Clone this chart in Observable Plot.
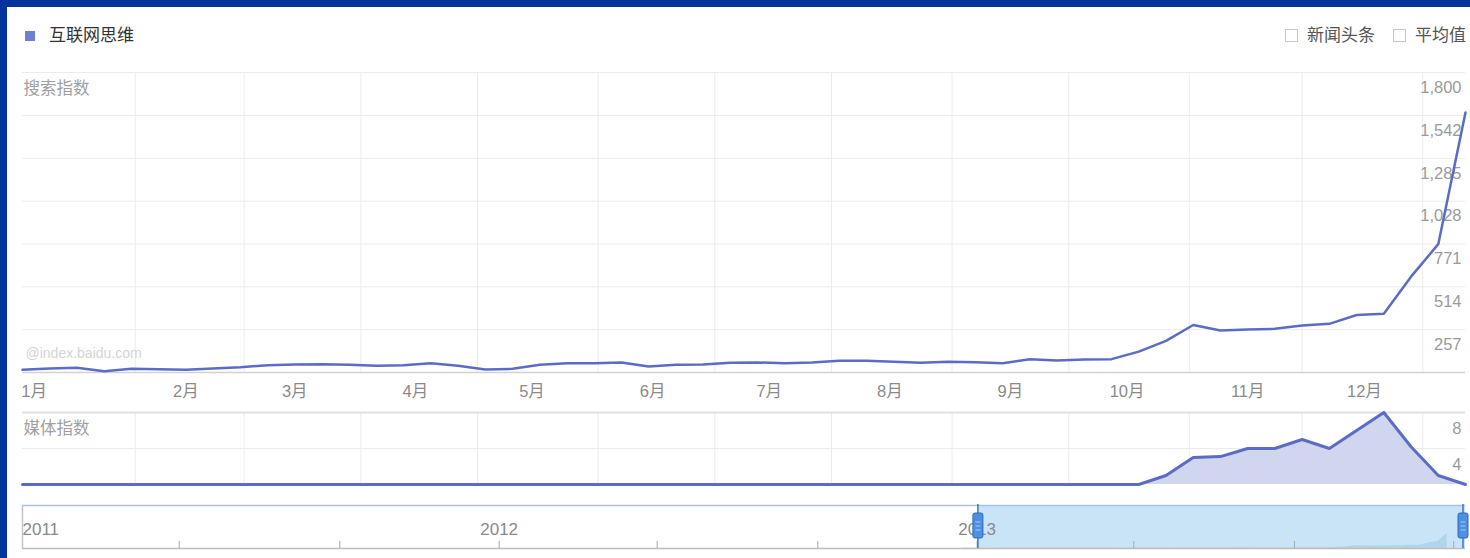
<!DOCTYPE html>
<html><head><meta charset="utf-8">
<script src="https://cdn.jsdelivr.net/npm/d3@7"></script>
<script src="https://cdn.jsdelivr.net/npm/@observablehq/plot@0.6"></script>
<style>
body{margin:0;background:#fff;}
#wrap{position:relative;width:1470px;height:558px;overflow:hidden;background:#fff;font-family:"Liberation Sans","Noto Sans CJK SC",sans-serif;}
svg{overflow:visible}
</style></head><body><div id="wrap"></div>
<script>
// ---------- data ----------
const seriesName = "互联网思维";
const weeks = ["2012-12-21","2012-12-28","2013-01-04","2013-01-11","2013-01-18","2013-01-25","2013-02-01","2013-02-08","2013-02-15","2013-02-22","2013-03-01","2013-03-08","2013-03-15","2013-03-22","2013-03-29","2013-04-05","2013-04-12","2013-04-19","2013-04-26","2013-05-03","2013-05-10","2013-05-17","2013-05-24","2013-05-31","2013-06-07","2013-06-14","2013-06-21","2013-06-28","2013-07-05","2013-07-12","2013-07-19","2013-07-26","2013-08-02","2013-08-09","2013-08-16","2013-08-23","2013-08-30","2013-09-06","2013-09-13","2013-09-20","2013-09-27","2013-10-04","2013-10-11","2013-10-18","2013-10-25","2013-11-01","2013-11-08","2013-11-15","2013-11-22","2013-11-29","2013-12-06","2013-12-13","2013-12-20","2013-12-27"];
const searchIndex = [16,24,28,8,22,20,16,24,32,44,48,50,46,40,44,56,40,18,22,46,56,56,60,36,46,48,58,60,56,60,70,70,64,58,64,62,56,80,72,78,80,125,190,285,252,258,262,282,292,345,352,575,770,1560];
const mediaIndex = [0,0,0,0,0,0,0,0,0,0,0,0,0,0,0,0,0,0,0,0,0,0,0,0,0,0,0,0,0,0,0,0,0,0,0,0,0,0,0,0,0,0,1.0,3.0,3.1,4.0,4.0,5.0,4.0,6.0,8.0,4.2,1.0,0];
const searchTicks = [257,514,771,1028,1285,1542,1800];
const mediaTicks = [4,8];
const monthTickDates = ["2012-12-24","2013-02-01","2013-03-01","2013-04-01","2013-05-01","2013-06-01","2013-07-01","2013-08-01","2013-09-01","2013-10-01","2013-11-01","2013-12-01"];
const monthLabels = ["1月","2月","3月","4月","5月","6月","7月","8月","9月","10月","11月","12月"];
const gridDates = ["2013-01-19","2013-02-16","2013-03-18","2013-04-17","2013-05-18","2013-06-17","2013-07-17","2013-08-17","2013-09-16","2013-10-17","2013-11-15","2013-12-16"];
const overviewDomain = ["2011-01-01","2014-01-10"];
const overviewSelection = ["2013-01-02","2014-01-10"];
const yearTickDates = ["2011-01-01","2012-01-01","2013-01-01"];
const yearLabels = ["2011","2012","2013"];
const overviewTickDates = ["2011-05-01","2011-09-01","2012-01-01","2012-05-01","2012-09-01","2013-01-01","2013-05-01","2013-09-01","2014-01-01"];
const legendRight = ["新闻头条","平均值"];

// ---------- build ----------
const P = d => new Date(d + "T00:00:00Z");
const data = weeks.map((w, i) => ({date: P(w), search: searchIndex[i], media: mediaIndex[i]}));
const months = monthTickDates.map((d, i) => ({date: P(d), label: monthLabels[i]}));
const grid = gridDates.map(P);
const wrap = document.getElementById("wrap");
const FONT = "Liberation Sans, Noto Sans CJK SC, sans-serif";
const LINE = "#5a6cc8";
const xDomain = [data[0].date, data[data.length - 1].date];

function place(el, left, topPx) {
  el.style.position = "absolute"; el.style.left = left + "px"; el.style.top = topPx + "px";
  wrap.appendChild(el); return el;
}

// main search chart
const mainPlot = Plot.plot({
  width: 1470, height: 350,
  marginLeft: 22, marginRight: 5, marginTop: 12, marginBottom: 38,
  style: {fontFamily: FONT, background: "transparent", overflow: "visible"},
  x: {type: "utc", domain: xDomain, axis: null},
  y: {domain: [0, 1800], axis: null},
  marks: [
    Plot.ruleX(grid, {x: d => d, stroke: "#ececec"}),
    Plot.ruleY(searchTicks, {y: d => d, stroke: "#ececec"}),
    Plot.ruleY([0], {stroke: "#d2d2d2", strokeWidth: 1.5}),
    Plot.text(searchTicks, {y: d => d, frameAnchor: "right", text: d => d3.format(",")(d), textAnchor: "end", lineAnchor: "middle", dx: -4, dy: 15, fill: "#9a9a9a", fontSize: 16.5}),
    Plot.text(["搜索指数"], {frameAnchor: "top-left", text: d => d, textAnchor: "start", lineAnchor: "middle", dx: 1, dy: 16, fill: "#a0a0a0", fontSize: 16.5}),
    Plot.text(["@index.baidu.com"], {frameAnchor: "bottom-left", text: d => d, textAnchor: "start", lineAnchor: "middle", dx: 3, dy: -19, fill: "#d4d4d4", fontSize: 14}),
    Plot.line(data, {x: "date", y: "search", stroke: LINE, strokeWidth: 2.5, strokeLinejoin: "round"}),
    Plot.text(months, {x: "date", text: "label", frameAnchor: "bottom", lineAnchor: "middle", dy: 19, fill: "#8a8a8a", fontSize: 16.5})
  ]
});
place(mainPlot, 0, 60);

// media chart
const mediaPlot = Plot.plot({
  width: 1470, height: 92,
  marginLeft: 22, marginRight: 5, marginTop: 12, marginBottom: 8,
  style: {fontFamily: FONT, background: "transparent", overflow: "visible"},
  x: {type: "utc", domain: xDomain, axis: null},
  y: {domain: [0, 8], axis: null},
  marks: [
    Plot.ruleX(grid, {x: d => d, stroke: "#ececec"}),
    Plot.ruleY([4], {stroke: "#ececec"}),
    Plot.areaY(data, {x: "date", y: "media", fill: "#d1d6ef"}),
    Plot.ruleY([8], {stroke: "#e0e0e0", strokeWidth: 2}),
    Plot.text(mediaTicks, {y: d => d, frameAnchor: "right", text: d => String(d), textAnchor: "end", lineAnchor: "middle", dx: -4, dy: 16, fill: "#9a9a9a", fontSize: 16.5}),
    Plot.text(["媒体指数"], {frameAnchor: "top-left", text: d => d, textAnchor: "start", lineAnchor: "middle", dx: 1, dy: 16, fill: "#a0a0a0", fontSize: 16.5}),
    Plot.line(data, {x: "date", y: "media", stroke: LINE, strokeWidth: 3, strokeLinejoin: "round"})
  ]
});
place(mediaPlot, 0, 400);

// overview / range selector
const ovDomain = overviewDomain.map(P);
const sel = overviewSelection.map(P);
const ovPlot = Plot.plot({
  width: 1470, height: 55,
  marginLeft: 22, marginRight: 5, marginTop: 5, marginBottom: 7,
  style: {fontFamily: FONT, background: "transparent", overflow: "visible"},
  x: {type: "utc", domain: ovDomain, axis: null},
  y: {domain: [0, 4500], axis: null},
  marks: [
    Plot.rect([sel], {x1: d => d[0], x2: d => d[1], fill: "#c8e4f6"}),
    Plot.areaY(data, {x: "date", y: "search", fill: "#b2d4ea"}),
    Plot.ruleY([4500], {stroke: "#a9c2de", strokeWidth: 1.5}),
    Plot.ruleY([0], {stroke: "#bdbdbd", strokeWidth: 1.5}),
    Plot.ruleX([ovDomain[0]], {stroke: "#c4c4c4", strokeWidth: 1.5}),
    Plot.tickX(overviewTickDates.map(P), {x: d => d, stroke: "#a8a8a8", insetTop: 36}),
    Plot.text([yearTickDates[0]], {x: d => P(d), text: () => yearLabels[0], textAnchor: "start", frameAnchor: "top", lineAnchor: "middle", dy: 24, fill: "#8a8a8a", fontSize: 17}),
    Plot.text(yearTickDates.slice(1), {x: d => P(d), text: (d, i) => yearLabels[i + 1], textAnchor: "middle", frameAnchor: "top", lineAnchor: "middle", dy: 24, fill: "#8a8a8a", fontSize: 17})
  ]
});
place(ovPlot, 0, 500);
// handles at the selection bounds, positioned with the plot's own x scale
const xs = ovPlot.scale("x");
const ovSvg = d3.select(ovPlot);
sel.forEach((d, i) => {
  const x = Math.min(xs.apply(d), 1466) - (i === 1 ? 2 : 0);
  const g = ovSvg.append("g");
  g.append("line").attr("x1", x).attr("x2", x).attr("y1", 4).attr("y2", 48).attr("stroke", "#3b74c9").attr("stroke-width", 1.5);
  g.append("rect").attr("x", x - 5).attr("y", 13).attr("width", 10).attr("height", 25).attr("rx", 2)
    .attr("fill", "#4d8fe0").attr("stroke", "#2f6bc2");
  [22, 26, 30].forEach(y => g.append("line").attr("x1", x - 2.5).attr("x2", x + 2.5).attr("y1", y).attr("y2", y).attr("stroke", "#a8cbf2").attr("stroke-width", 1));
});

// legend (HTML)
const sq = document.createElement("div");
sq.style.cssText = "width:10px;height:10px;background:#6b80d6;";
place(sq, 25, 31);
const lt = document.createElement("div");
lt.textContent = seriesName;
lt.style.cssText = `font-family:${FONT};font-size:17px;color:#333;line-height:20px;`;
place(lt, 49, 26);
[[1285, legendRight[0]], [1393, legendRight[1]]].forEach(([x, t]) => {
  const b = document.createElement("div");
  b.style.cssText = "width:13px;height:13px;border:1px solid #c8c8c8;background:#fff;box-sizing:border-box;";
  place(b, x, 29);
  const s = document.createElement("div");
  s.textContent = t;
  s.style.cssText = `font-family:${FONT};font-size:17px;color:#555;line-height:20px;`;
  place(s, x + 22, 26);
});

// blue frame
const bandTop = document.createElement("div"); bandTop.style.cssText = "width:1470px;height:7px;background:#03339b;"; place(bandTop, 0, 0);
const bandLeft = document.createElement("div"); bandLeft.style.cssText = "width:7px;height:558px;background:#03339b;"; place(bandLeft, 0, 0);
</script></body></html>
